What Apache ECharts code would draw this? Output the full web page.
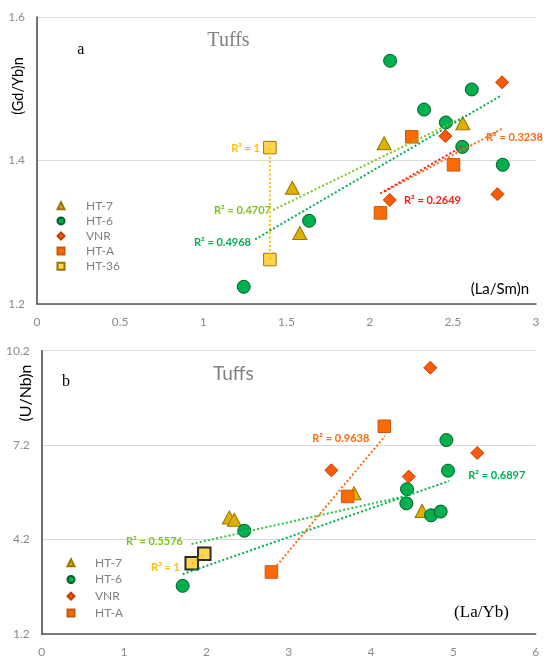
<!DOCTYPE html>
<html><head><meta charset="utf-8">
<script src="https://cdn.jsdelivr.net/npm/echarts@6/dist/echarts.min.js"></script>
<style>html,body{margin:0;padding:0;background:#fff}#c{width:550px;height:666px}</style>
</head><body><div id="c"></div>
<script>
// ---------- Panel a: (La/Sm)n vs (Gd/Yb)n ----------
const aXTicks = [0, 0.5, 1, 1.5, 2, 2.5, 3];
const aYTicks = [1.2, 1.4, 1.6];
const aHT7  = [[1.535,1.362],[1.580,1.299],[2.087,1.424],[2.560,1.452]];
const aHT6  = [[1.243,1.224],[1.636,1.316],[2.123,1.539],[2.327,1.471],[2.458,1.453],[2.557,1.419],[2.614,1.499],[2.800,1.394]];
const aVNR  = [[2.121,1.345],[2.455,1.434],[2.768,1.353],[2.796,1.509]];
const aHTA  = [[2.065,1.327],[2.253,1.433],[2.504,1.394]];
const aHT36 = [[1.40,1.262],[1.40,1.418]];
const aTrendHT7  = [[1.419,1.331],[2.553,1.459]];
const aTrendHT6  = [[1.311,1.290],[2.794,1.491]];
const aTrendVNR  = [[2.093,1.357],[2.802,1.445]];
const aTrendHTA  = [[2.063,1.354],[2.560,1.420]];
const aTrendHT36 = [[1.40,1.262],[1.40,1.418]];

// ---------- Panel b: (La/Yb) vs (U/Nb)n ----------
const bXTicks = [0, 1, 2, 3, 4, 5, 6];
const bYTicks = [1.2, 4.2, 7.2, 10.2];
const bHT7  = [[2.279,4.90],[2.339,4.83],[3.793,5.67],[4.620,5.11]];
const bHT6  = [[1.712,2.73],[2.461,4.48],[4.429,5.35],[4.437,5.80],[4.729,4.97],[4.846,5.09],[4.915,7.36],[4.935,6.39]];
const bVNR  = [[3.518,6.40],[4.458,6.20],[4.720,9.66],[5.290,6.95]];
const bHTA  = [[2.790,3.17],[3.716,5.57],[4.161,7.80]];
const bHT36 = [[1.822,3.45],[1.975,3.75]];
const bTrendHT7  = [[1.82,4.06],[4.45,5.60]];
const bTrendHT6  = [[1.712,3.10],[4.947,6.06]];
const bTrendHTA  = [[2.79,3.17],[4.17,7.49]];
const bTrendHT36 = [[1.822,3.45],[1.975,3.75]];

const legendA = ['HT-7','HT-6','VNR','HT-A','HT-36'];
const legendB = ['HT-7','HT-6','VNR','HT-A'];

const STY = {
  'HT-7':  {symbol:'triangle', size:[14,13], fill:'#DDB100', border:'#9A7400', bw:1},
  'HT-6':  {symbol:'circle',   size:13, fill:'#00B04F', border:'#005E27', bw:1},
  'VNR':   {symbol:'diamond',  size:13, fill:'#FA5A0A', border:'#C03F00', bw:1},
  'HT-A':  {symbol:'rect',     size:12.5, fill:'#FF6A00', border:'#C55A11', bw:1},
  'HT-36': {symbol:'rect',     size:12.5, fill:'#FFD54F', border:'#9A7400', bw:1}
};
function scat(name, data, g, extra){
  const s = STY[name];
  const o = {name, type:'scatter', xAxisIndex:g, yAxisIndex:g, data,
    symbol:s.symbol, symbolSize:s.size, z:2,
    itemStyle:{color:s.fill, borderColor:s.border, borderWidth:s.bw, opacity:1}};
  if (extra) Object.assign(o.itemStyle, extra);
  return o;
}
function trend(name, data, g, color){
  return {name:name+' trend', type:'line', xAxisIndex:g, yAxisIndex:g, data,
    symbol:'none', z:3, silent:true,
    lineStyle:{color, width:2, type:[2,2.2]}};
}
const tickLbl = {color:'#8a8a8a', fontSize:12, fontFamily:'Lato'};
function xAx(g, max, interval, ticks){
  return {type:'value', gridIndex:g, min:0, max, interval,
    axisLine:{show:true, lineStyle:{color:'#555', width:1.5}},
    axisTick:{show:false, customValues:ticks},
    axisLabel:Object.assign({margin:12, customValues:ticks}, tickLbl),
    splitLine:{show:false}};
}
function yAx(g, min, max, ticks){
  return {type:'value', gridIndex:g, min, max,
    axisLine:{show:true, lineStyle:{color:'#444', width:1.5}},
    axisTick:{show:false, customValues:ticks},
    axisLabel:Object.assign({margin:12, customValues:ticks}, tickLbl),
    splitLine:{show:true, lineStyle:{color:'#d9d9d9', width:1}}};
}
function txt(text, x, y, color, size, family, weight, align){
  return {type:'text', x, y, z:10, style:{text, fill:color,
    font:(weight||'normal')+' '+size+'px '+family, align:align||'left', verticalAlign:'middle'}};
}

const chart = echarts.init(document.getElementById('c'), null, {renderer:'canvas'});
chart.setOption({
  backgroundColor:'#fff',
  animation:false,
  grid:[
    {left:37, right:14, top:17, height:287},
    {left:41.7, right:14.3, top:350.7, height:283.3}
  ],
  xAxis:[xAx(0,3,0.5,aXTicks), xAx(1,6,1,bXTicks)],
  yAxis:[yAx(0,1.2,1.6,aYTicks), yAx(1,1.2,10.2,bYTicks)],
  legend:[
    {orient:'vertical', left:51.5, top:194.8, itemWidth:7, itemHeight:7, itemGap:3.1,
     data:legendA, textStyle:{color:'#7f7f7f', fontSize:12, fontFamily:'Lato', padding:[0,0,0,16.5]}},
    {orient:'vertical', left:61.5, top:551.8, itemWidth:7, itemHeight:7, itemGap:4.7,
     data:legendB, textStyle:{color:'#7f7f7f', fontSize:12, fontFamily:'Lato', padding:[0,0,0,15.5]}}
  ],
  series:[
    scat('HT-7', aHT7, 0), scat('HT-6', aHT6, 0), scat('VNR', aVNR, 0),
    scat('HT-A', aHTA, 0), scat('HT-36', aHT36, 0),
    trend('HT-36', aTrendHT36, 0, '#FFC000'),
    trend('HT-7', aTrendHT7, 0, '#7DC31A'),
    trend('HT-6', aTrendHT6, 0, '#00B050'),
    trend('VNR', aTrendVNR, 0, '#FF6A10'),
    trend('HT-A', aTrendHTA, 0, '#FF1A1A'),
    scat('HT-7', bHT7, 1), scat('HT-6', bHT6, 1), scat('VNR', bVNR, 1),
    scat('HT-A', bHTA, 1), scat('HT-36', bHT36, 1, {borderColor:'#2a2a2a', borderWidth:2}),
    trend('HT-36', bTrendHT36, 1, '#FFC000'),
    trend('HT-7', bTrendHT7, 1, '#2BC33A'),
    trend('HT-6', bTrendHT6, 1, '#00B050'),
    trend('HT-A', bTrendHTA, 1, '#FF6A10')
  ],
  graphic:[
    txt('Tuffs', 228.5, 41, '#808080', 20, '"Liberation Serif", serif', 'normal', 'center'),
    txt('a', 80.7, 50, '#000', 16, '"Liberation Serif", serif', 'normal', 'center'),
    {type:'text', x:18, y:86, rotation:Math.PI/2, z:10, style:{text:'(Gd/Yb)n', fill:'#000', font:'normal 14.5px Lato', align:'center', verticalAlign:'middle'}},
    txt('(La/Sm)n', 529, 289, '#000', 15, 'Lato', 'normal', 'right'),
    txt('R² = 1', 260, 148, '#FFC000', 11, 'Lato', 'bold', 'right'),
    txt('R² = 0.4707', 214, 210, '#7DC31A', 11, 'Lato', 'bold'),
    txt('R² = 0.4968', 194, 242, '#00B050', 11, 'Lato', 'bold'),
    txt('R² = 0.3238', 486, 137, '#FF6A10', 11, 'Lato', 'bold'),
    txt('R² = 0.2649', 404, 200, '#FF1A1A', 11, 'Lato', 'bold'),
    txt('Tuffs', 233.3, 373.5, '#808080', 19, 'Lato', 'normal', 'center'),
    txt('b', 66, 381.7, '#000', 16, '"Liberation Serif", serif', 'normal', 'center'),
    {type:'text', x:26, y:393, rotation:Math.PI/2, z:10, style:{text:'(U/Nb)n', fill:'#000', font:'normal 16px Lato', align:'center', verticalAlign:'middle'}},
    txt('(La/Yb)', 481.5, 613, '#000', 17, '"Liberation Serif", serif', 'normal', 'center'),
    txt('R² = 0.5576', 126, 541, '#7DC31A', 11, 'Lato', 'bold'),
    txt('R² = 1', 180, 567.3, '#FFC000', 11, 'Lato', 'bold', 'right'),
    txt('R² = 0.9638', 312.3, 438.3, '#FF6A10', 11, 'Lato', 'bold'),
    txt('R² = 0.6897', 468.3, 475.3, '#00B050', 11, 'Lato', 'bold')
  ]
});
</script></body></html>
